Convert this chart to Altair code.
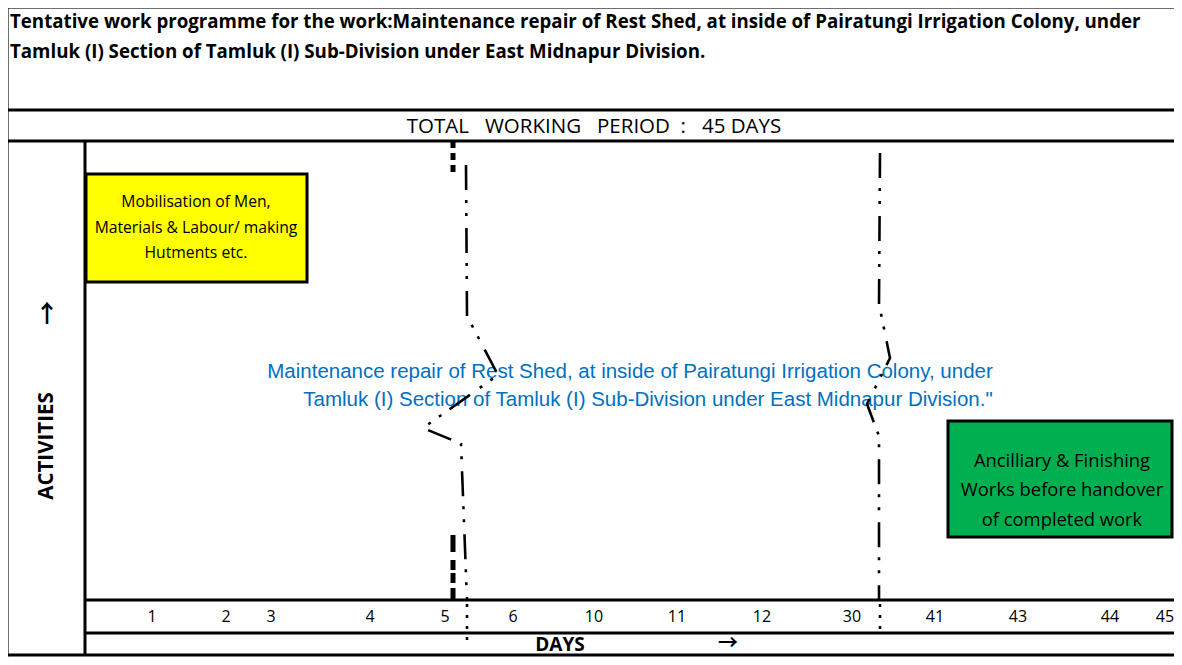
import altair as alt
import pandas as pd

# ---------------- content ----------------
title_lines = [
    "Tentative work programme for the work:Maintenance repair of Rest Shed, at inside of Pairatungi Irrigation Colony, under",
    "Tamluk (I) Section of Tamluk (I) Sub-Division under East Midnapur Division.",
]
period_text = "TOTAL\u00a0\u00a0 WORKING\u00a0\u00a0 PERIOD\u00a0 :\u00a0\u00a0 45 DAYS"
work_lines = [
    "Maintenance repair of Rest Shed, at inside of Pairatungi Irrigation Colony, under",
    "Tamluk (I) Section of Tamluk (I) Sub-Division under East Midnapur Division.\"",
]
day_labels = ["1", "2", "3", "4", "5", "6", "10", "11", "12", "30", "41", "43", "44", "45"]
activity_names = ["mobilisation", "finishing"]
activity_text = [
    ["Mobilisation of Men,", "Materials & Labour/ making", "Hutments etc."],
    ["Ancilliary & Finishing", "Works before handover", "of completed work"],
]
activity_fill = ["#FFFF00", "#00B050"]

# ---------------- layout (page pixel grid of the sheet) ----------------
W, H = 1166, 649
X0, Y0 = 8, 8
XS = alt.Scale(domain=[X0, X0 + W], nice=False, zero=False)
YS = alt.Scale(domain=[Y0, Y0 + H], nice=False, zero=False, reverse=True)

day_x = [152, 226, 271, 370, 445, 513, 594, 677, 762, 852, 935, 1018, 1110, 1165]
day_y = 617

grid_rules = pd.DataFrame({
    "x":  [7, 7, 7, 85, 85, 7, 7, 85],
    "x2": [1190, 1190, 1190, 1190, 1190, 1190, 7, 85],
    "y":  [7, 110, 141, 600, 633, 655, 7, 141],
    "y2": [7, 110, 141, 600, 633, 655, 655, 655],
})

box_geo = {"mobilisation": (86, 307, 174, 282, 196, [202, 228, 253], 15.7),
           "finishing": (948, 1172, 421, 537, 1062, [461, 490, 520], 18.4)}


def X(f):
    return alt.X(f, type="quantitative", scale=XS, axis=None)


def Y(f):
    return alt.Y(f, type="quantitative", scale=YS, axis=None)


FONT = "Open Sans"
ARROW_FONT = "Noto Sans CJK JP"

rules = alt.Chart(grid_rules).mark_rule(color="black", strokeWidth=3).encode(
    x=X("x"), x2="x2", y=Y("y"), y2="y2")

box_rows, box_text_rows = [], []
for name, fill, lines in zip(activity_names, activity_fill, activity_text):
    x1, x2, y1, y2, cx, ly, fs = box_geo[name]
    box_rows.append({"name": name, "x": x1, "x2": x2, "y": y1, "y2": y2, "fill": fill})
    for t, yy in zip(lines, ly):
        box_text_rows.append({"name": name, "x": cx, "y": yy, "t": t, "fs": fs})
boxes = alt.Chart(pd.DataFrame(box_rows)).mark_rect(stroke="black", strokeWidth=3).encode(
    x=X("x"), x2="x2", y=Y("y"), y2="y2", fill=alt.Fill("fill:N", scale=None))
box_text = alt.Chart(pd.DataFrame(box_text_rows)).mark_text(
    font=FONT, align="center", baseline="middle", color="black").encode(
    x=X("x"), y=Y("y"), text="t:N", size=alt.Size("fs:Q", scale=None))

title = alt.Chart(pd.DataFrame({"t": title_lines, "x": [10, 10], "y": [22, 52]})).mark_text(
    font=FONT, fontWeight="bold", fontSize=18.7, align="left", baseline="middle", color="black").encode(
    x=X("x"), y=Y("y"), text="t:N")

period = alt.Chart(pd.DataFrame({"t": [period_text], "x": [594], "y": [127]})).mark_text(
    font=FONT, fontSize=20.5, align="center", baseline="middle", color="black").encode(
    x=X("x"), y=Y("y"), text="t:N")

work = alt.Chart(pd.DataFrame({"t": work_lines, "x": [630, 648], "y": [372, 400]})).mark_text(
    font="Liberation Sans", fontSize=20.5, align="center", baseline="middle", color="#0070C0").encode(
    x=X("x"), y=Y("y"), text="t:N")

days = alt.Chart(pd.DataFrame({"t": day_labels, "x": day_x, "y": [day_y] * len(day_labels)})).mark_text(
    font=FONT, fontSize=16, align="center", baseline="middle", color="black").encode(
    x=X("x"), y=Y("y"), text="t:N")

days_title = alt.Chart(pd.DataFrame({"t": ["DAYS"], "x": [560], "y": [645]})).mark_text(
    font=FONT, fontWeight="bold", fontSize=19, align="center", baseline="middle", color="black").encode(
    x=X("x"), y=Y("y"), text="t:N")

arrows = alt.Chart(pd.DataFrame({"t": ["\u2192", "\u2191"], "x": [728, 47], "y": [644, 315],
                                 "fs": [20, 24]})).mark_text(
    font=ARROW_FONT, fontWeight="bold", align="center", baseline="middle", color="black").encode(
    x=X("x"), y=Y("y"), text="t:N", size=alt.Size("fs:Q", scale=None))

activities = alt.Chart(pd.DataFrame({"t": ["ACTIVITIES"], "x": [47], "y": [446]})).mark_text(
    font=FONT, fontWeight="bold", fontSize=20.5, align="center", baseline="middle", angle=270,
    color="black").encode(x=X("x"), y=Y("y"), text="t:N")


# milestone break-lines (freeform dash-dot-dot)
def path_df(seg, pts):
    return pd.DataFrame({"seg": seg, "i": list(range(len(pts))),
                         "x": [p[0] for p in pts], "y": [p[1] for p in pts]})


lineA = [(466, 165), (467, 316), (498, 375), (423, 428), (452, 440), (461, 444), (467, 600)]
lineB = [(880, 153), (879, 304), (890, 358), (867, 404), (879, 436), (879, 600)]
main_paths = pd.concat([path_df("A", lineA), path_df("B", lineB)])
dot_paths = pd.concat([path_df("A", [(467, 604), (467, 645)]), path_df("B", [(880, 604), (880, 630)])])
thick_top = path_df("T", [(453, 141), (453, 172)])
thick_bot = path_df("U", [(453, 535), (453, 600)])


def line_layer(df, width, dash):
    return alt.Chart(df).mark_line(color="black", strokeWidth=width, strokeDash=dash).encode(
        x=X("x"), y=Y("y"), detail="seg:N", order="i:Q")


lines = [
    line_layer(main_paths, 2.6, [25, 10, 3, 10, 3, 12]),
    line_layer(dot_paths, 2.6, [3, 8]),
    line_layer(thick_top, 5, [7, 5]),
    line_layer(thick_bot, 5, [17, 8, 10, 3, 10, 5]),
]

chart = alt.layer(
    boxes, box_text, title, period, work, days, days_title, arrows, activities, *lines, rules
).properties(width=W, height=H, padding=0, autosize=alt.AutoSizeParams(type="none")).configure_view(
    stroke=None).configure(background="white")

chart.save("out.html", embed_options={"renderer": "svg", "actions": False})
